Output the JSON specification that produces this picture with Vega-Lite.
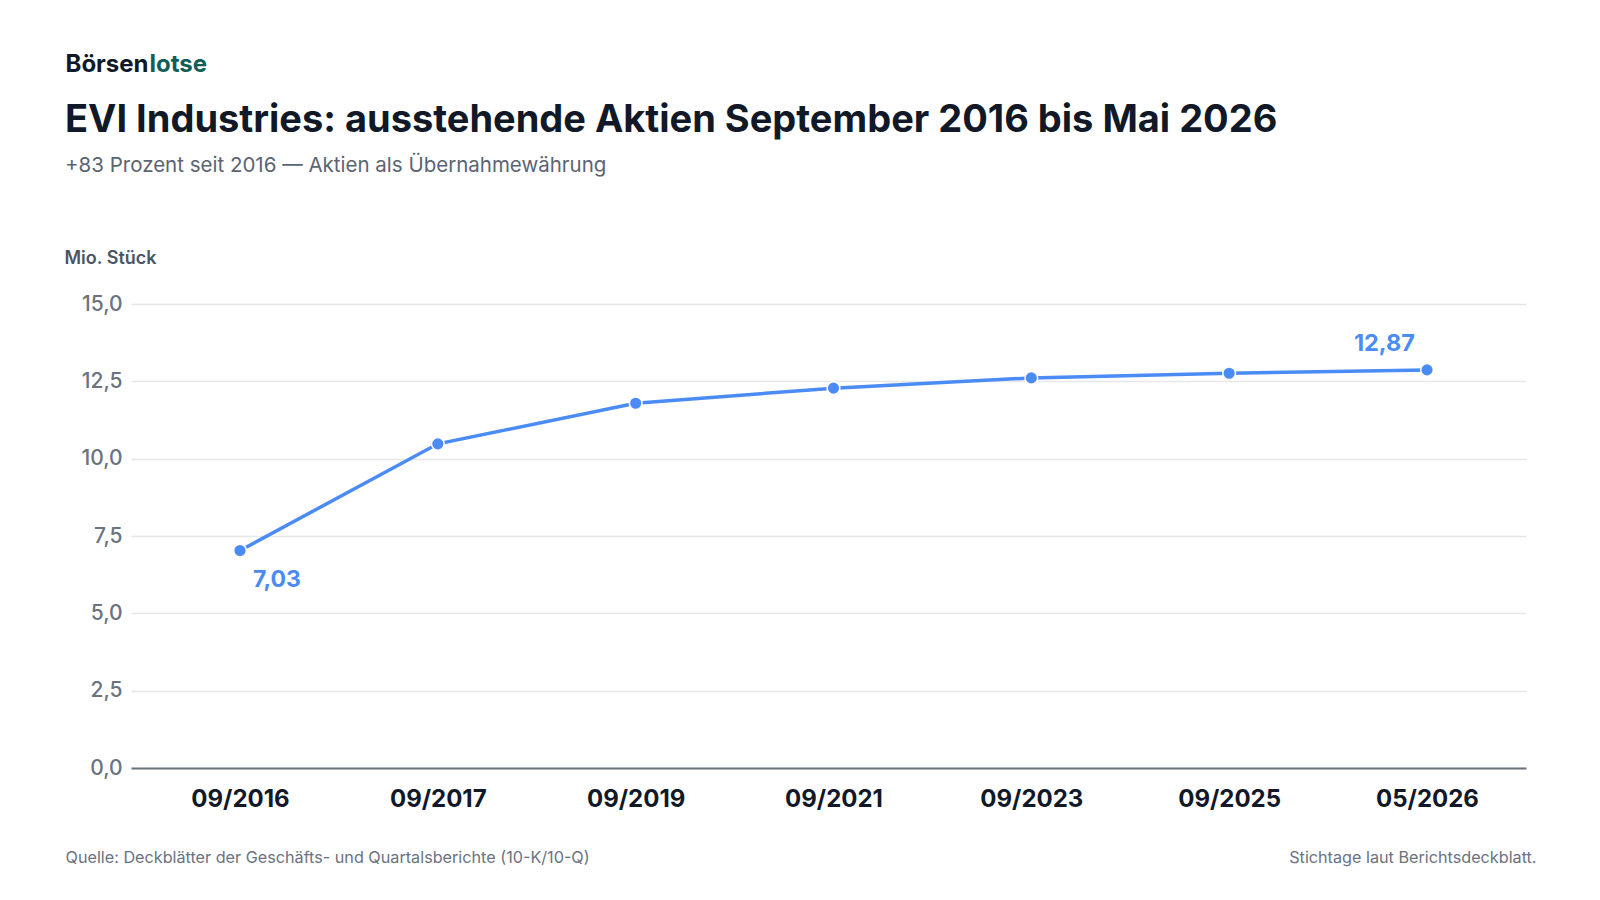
{
  "$schema": "https://vega.github.io/schema/vega-lite/v6.json",
  "autosize": {"type": "none"},
  "padding": {"left": 131, "top": 304, "right": 74, "bottom": 132},
  "width": 1395,
  "height": 464,
  "background": "#ffffff",
  "config": {
    "view": {"stroke": null},
    "font": "Inter",
    "locale": {"number": {"decimal": ",", "thousands": ".", "grouping": [3], "currency": ["", " €"]}}
  },
  "title": {
    "text": "EVI Industries: ausstehende Aktien September 2016 bis Mai 2026",
    "subtitle": "+83 Prozent seit 2016 — Aktien als Übernahmewährung",
    "anchor": "start",
    "frame": "group",
    "dx": -66,
    "offset": -124,
    "font": "Inter",
    "fontSize": 38,
    "fontWeight": "bold",
    "color": "#111827",
    "subtitleFont": "Inter",
    "subtitleFontSize": 20.5,
    "subtitleColor": "#5b6472",
    "subtitlePadding": 16
  },
  "data": {
    "values": [
      {"d": "09/2016", "v": 7.03},
      {"d": "09/2017", "v": 10.48},
      {"d": "09/2019", "v": 11.79},
      {"d": "09/2021", "v": 12.28},
      {"d": "09/2023", "v": 12.61},
      {"d": "09/2025", "v": 12.76},
      {"d": "05/2026", "v": 12.87}
    ]
  },
  "resolve": {
    "scale": {"x": "independent", "y": "independent"},
    "axis": {"x": "independent", "y": "independent"}
  },
  "layer": [
    {
      "encoding": {
        "x": {
          "field": "d", "type": "ordinal", "sort": null,
          "scale": {"type": "point", "padding": 0.5257, "align": 0.524},
          "axis": {
            "orient": "bottom",
            "ticks": false, "grid": false,
            "domain": true, "domainColor": "#6b7280", "domainWidth": 2,
            "labelFont": "Inter", "labelFontSize": 24, "labelFontWeight": "bold", "labelColor": "#111827",
            "labelPadding": 19, "labelAngle": 0,
            "title": "Quelle: Deckblätter der Geschäfts- und Quartalsberichte (10-K/10-Q)",
            "titleFont": "Inter", "titleFontSize": 16.2, "titleFontWeight": "normal", "titleColor": "#6b7280",
            "titleAnchor": "start", "titleAlign": "left", "titleBaseline": "alphabetic",
            "titleX": -66, "titleY": 94
          }
        },
        "y": {
          "field": "v", "type": "quantitative",
          "scale": {"domain": [0, 15], "nice": false, "zero": true},
          "axis": {
            "values": [0, 2.5, 5, 7.5, 10, 12.5, 15],
            "format": ".1f",
            "ticks": false, "domain": false,
            "grid": true, "gridColor": "#e5e7eb", "gridWidth": 1.5,
            "labelFont": "Inter", "labelFontSize": 21, "labelFontWeight": 500, "labelColor": "#6b7280", "labelPadding": 9,
            "title": "Mio. Stück",
            "titleFont": "Inter", "titleFontSize": 18, "titleFontWeight": 600, "titleColor": "#4b5563",
            "titleAngle": 0, "titleAlign": "left", "titleBaseline": "middle",
            "titleX": -67, "titleY": -46
          }
        }
      },
      "layer": [
        {"mark": {"type": "line", "color": "#4b8bf5", "strokeWidth": 3.5}},
        {"mark": {"type": "point", "filled": true, "color": "#4b8bf5", "size": 160, "stroke": "#ffffff", "strokeWidth": 1.5, "opacity": 1}},
        {
          "transform": [{"filter": "datum.d === '09/2016'"}],
          "mark": {"type": "text", "align": "left", "baseline": "middle", "dx": 13, "dy": 29, "font": "Inter", "fontSize": 23, "fontWeight": "bold", "color": "#4b8bf5"},
          "encoding": {"text": {"field": "v", "type": "quantitative", "format": ".2f"}}
        },
        {
          "transform": [{"filter": "datum.d === '05/2026'"}],
          "mark": {"type": "text", "align": "right", "baseline": "middle", "dx": -12, "dy": -26, "font": "Inter", "fontSize": 23.5, "fontWeight": "bold", "color": "#4b8bf5"},
          "encoding": {"text": {"field": "v", "type": "quantitative", "format": ".2f"}}
        }
      ]
    },
    {
      "mark": {"type": "point", "opacity": 0},
      "encoding": {
        "x": {
          "field": "d", "type": "ordinal", "sort": null,
          "axis": {
            "orient": "top", "labels": false, "ticks": false, "domain": false, "grid": false,
            "title": "Börsen",
            "titleFont": "Inter", "titleFontSize": 24, "titleFontWeight": "bold", "titleColor": "#111827",
            "titleAlign": "left", "titleBaseline": "alphabetic", "titleX": -66, "titleY": -233
          }
        },
        "y": {
          "field": "v", "type": "quantitative",
          "axis": {
            "orient": "right", "labels": false, "ticks": false, "domain": false, "grid": false,
            "title": "Stichtage laut Berichtsdeckblatt.",
            "titleFont": "Inter", "titleFontSize": 16.2, "titleFontWeight": "normal", "titleColor": "#6b7280",
            "titleAngle": 0, "titleAlign": "right", "titleBaseline": "alphabetic", "titleX": 10, "titleY": 558
          }
        }
      }
    },
    {
      "mark": {"type": "point", "opacity": 0},
      "encoding": {
        "x": {
          "field": "d", "type": "ordinal", "sort": null,
          "axis": {
            "orient": "top", "labels": false, "ticks": false, "domain": false, "grid": false,
            "title": "lotse",
            "titleFont": "Inter", "titleFontSize": 24, "titleFontWeight": "bold", "titleColor": "#115e59",
            "titleAlign": "left", "titleBaseline": "alphabetic", "titleX": 18, "titleY": -233
          }
        },
        "y": {"field": "v", "type": "quantitative", "axis": null}
      }
    }
  ]
}
